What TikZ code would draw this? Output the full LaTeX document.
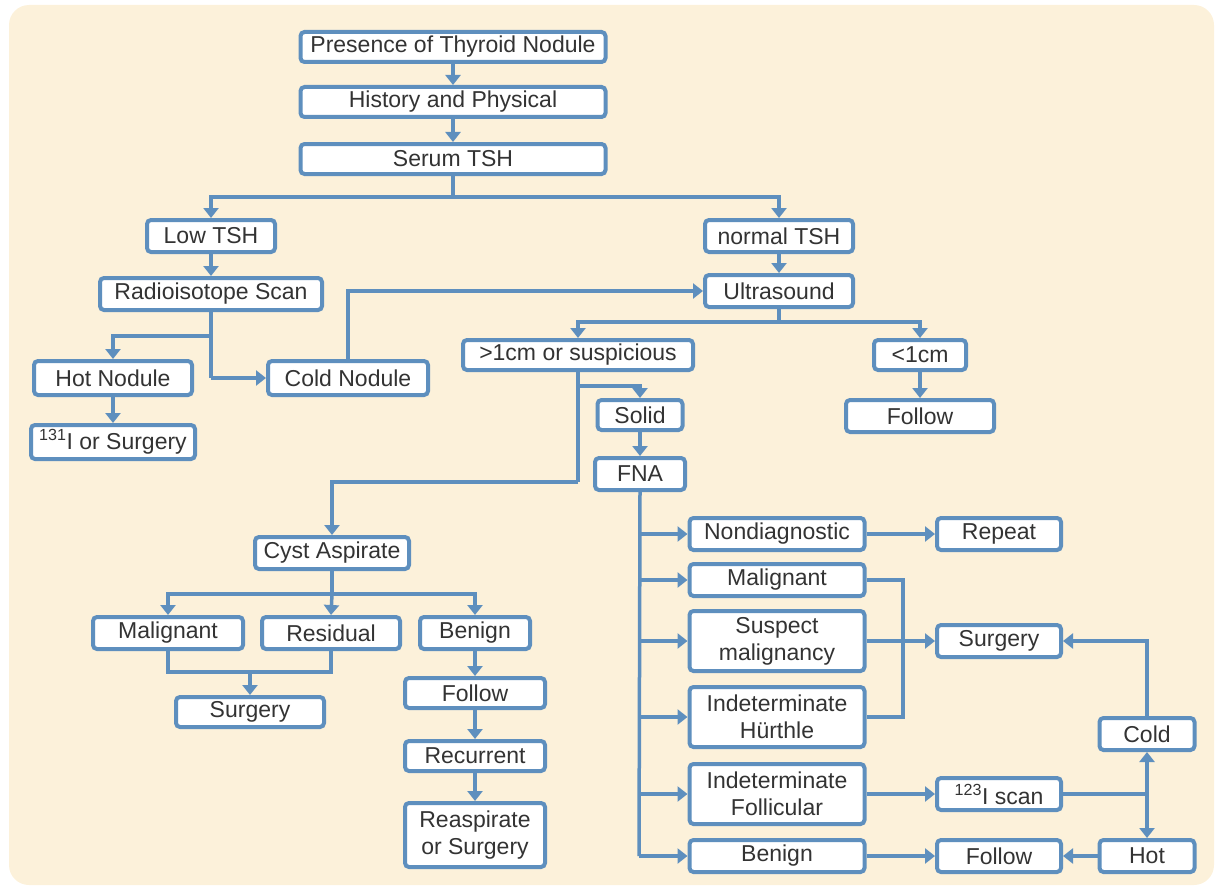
\documentclass[tikz,border=0pt]{standalone}
\usepackage{fontspec}
\setmainfont{Liberation Sans}
\usetikzlibrary{arrows.meta}
\definecolor{bg}{HTML}{FCF1DA}
\definecolor{bl}{HTML}{5E8FBE}
\definecolor{tx}{HTML}{333333}
\begin{document}
\begin{tikzpicture}[x=1pt,y=-1pt,
 box/.style={draw=bl, line width=4pt, fill=white, rounded corners=4pt, text=tx,
   font=\fontsize{23}{27}\selectfont, inner sep=0pt, align=center},
 ln/.style={draw=bl, line width=3.5pt},
 arr/.style={ln, -{Triangle[width=15pt,length=10pt]}}]
\useasboundingbox (0,0) rectangle (1220,888);
\fill[bg, rounded corners=20pt] (9,5) rectangle (1214,885);

% nodes
\node[box, minimum width=305pt, minimum height=30pt] (p1) at (453,47) {Presence of Thyroid Nodule};
\node[box, minimum width=305pt, minimum height=30pt] (hp) at (453,102) {History and Physical};
\node[box, minimum width=305pt, minimum height=30pt] (tsh) at (453,159) {Serum TSH};
\node[box, minimum width=128pt, minimum height=32pt] (low) at (211,236) {Low TSH};
\node[box, minimum width=148pt, minimum height=32pt] (normal) at (779,236) {normal TSH};
\node[box, minimum width=222pt, minimum height=32pt] (radio) at (211,294) {Radioisotope Scan};
\node[box, minimum width=148pt, minimum height=32pt] (us) at (779,291) {Ultrasound};
\node[box, minimum width=158pt, minimum height=34pt] (hot) at (113,378) {Hot Nodule};
\node[box, minimum width=160pt, minimum height=34pt] (cold) at (348,378) {Cold Nodule};
\node[box, minimum width=164pt, minimum height=34pt] (i131) at (113,442) {\textsuperscript{131}I or Surgery};
\node[box, minimum width=230pt, minimum height=30pt] (big) at (578,355) {>1cm or suspicious};
\node[box, minimum width=92pt, minimum height=30pt] (small) at (920,355) {<1cm};
\node[box, minimum width=148pt, minimum height=32pt] (folT) at (920,416) {Follow};
\node[box, minimum width=85pt, minimum height=30pt] (solid) at (640,415) {Solid};
\node[box, minimum width=90pt, minimum height=32pt] (fna) at (640,474) {FNA};
\node[box, minimum width=154pt, minimum height=32pt] (cyst) at (332,553) {Cyst Aspirate};
\node[box, minimum width=150pt, minimum height=32pt] (malL) at (168,633) {Malignant};
\node[box, minimum width=138pt, minimum height=32pt] (res) at (331,633) {Residual};
\node[box, minimum width=110pt, minimum height=32pt] (benL) at (475,633) {Benign};
\node[box, minimum width=148pt, minimum height=30pt] (surgL) at (250,712) {Surgery};
\node[box, minimum width=140pt, minimum height=30pt] (folL) at (475,693) {Follow};
\node[box, minimum width=140pt, minimum height=30pt] (rec) at (475,756) {Recurrent};
\node[box, minimum width=140pt, minimum height=64pt] (reasp) at (475,835) {Reaspirate\\or Surgery};
\node[box, minimum width=175pt, minimum height=32pt] (nond) at (777,534) {Nondiagnostic};
\node[box, minimum width=124pt, minimum height=32pt] (rep) at (999,534) {Repeat};
\node[box, minimum width=175pt, minimum height=32pt] (malR) at (777,580) {Malignant};
\node[box, minimum width=175pt, minimum height=60pt] (susp) at (777,641) {Suspect\\malignancy};
\node[box, minimum width=175pt, minimum height=60pt] (hur) at (777,717) {Indeterminate\\Hürthle};
\node[box, minimum width=175pt, minimum height=60pt] (foll) at (777,794) {Indeterminate\\Follicular};
\node[box, minimum width=175pt, minimum height=32pt] (benR) at (777,856) {Benign};
\node[box, minimum width=124pt, minimum height=32pt] (surgR) at (999,641) {Surgery};
\node[box, minimum width=95pt, minimum height=32pt] (coldR) at (1147,734) {Cold};
\node[box, minimum width=124pt, minimum height=32pt] (scan) at (999,794) {\textsuperscript{123}I scan};
\node[box, minimum width=124pt, minimum height=32pt] (folR) at (999,856) {Follow};
\node[box, minimum width=95pt, minimum height=32pt] (hotR) at (1147,856) {Hot};

% junction coordinates
\coordinate (j1) at (453,197);
\coordinate (j2) at (211,336);
\coordinate (j3) at (211,378);
\coordinate (j4) at (779,322);
\coordinate (j5) at (578,386);
\coordinate (j6) at (578,482);
\coordinate (j7) at (332,594);
\coordinate (j8) at (250,672);
\coordinate (j9) at (639,856);
\coordinate (j10) at (903,641);
\coordinate (j11) at (1147,794);

% connectors
\draw[arr] (p1) -- (hp);
\draw[arr] (hp) -- (tsh);
\draw[ln] (tsh.south) -- (j1);
\draw[arr] (j1) -| (low.north);
\draw[arr] (j1) -| (normal.north);
\draw[arr] (low) -- (radio);
\draw[arr] (normal) -- (us);
\draw[ln] (radio.south) -- (j3);
\draw[arr] (j2) -| (hot.north);
\draw[arr] (j3) -- (cold.west);
\draw[arr] (hot) -- (i131);
\draw[arr] (cold.north) |- (us.west);
\draw[ln] (us.south) -- (j4);
\draw[arr] (j4) -| (big.north);
\draw[arr] (j4) -| (small.north);
\draw[arr] (small) -- (folT);
\draw[ln] (big.south) -- (j6);
\draw[arr] (j5) -| (solid.north);
\draw[arr] (j6) -| (cyst.north);
\draw[arr] (solid) -- (fna);
\draw[ln] (cyst.south) -- (j7);
\draw[arr] (j7) -| (malL.north);
\draw[arr] (j7) -- (res.north);
\draw[arr] (j7) -| (benL.north);
\draw[ln] (malL.south) |- (j8) -| (res.south);
\draw[arr] (j8) -- (surgL.north);
\draw[arr] (benL) -- (folL);
\draw[arr] (folL) -- (rec);
\draw[arr] (rec) -- (reasp);
\draw[ln] (fna.south) -- (j9);
\draw[arr] (fna.south |- nond) -- (nond.west);
\draw[arr] (fna.south |- malR) -- (malR.west);
\draw[arr] (fna.south |- susp) -- (susp.west);
\draw[arr] (fna.south |- hur) -- (hur.west);
\draw[arr] (fna.south |- foll) -- (foll.west);
\draw[arr] (j9) -- (benR.west);
\draw[arr] (nond) -- (rep);
\draw[ln] (malR.east) -| (j10) |- (hur.east);
\draw[arr] (susp.east) -- (surgR.west);
\draw[arr] (coldR.north) |- (surgR.east);
\draw[arr] (foll.east) -- (scan.west);
\draw[ln] (scan.east) -- (j11);
\draw[arr] (j11) -- (coldR.south);
\draw[arr] (j11) -- (hotR.north);
\draw[arr] (hotR) -- (folR);
\draw[arr] (benR) -- (folR);
\end{tikzpicture}
\end{document}
